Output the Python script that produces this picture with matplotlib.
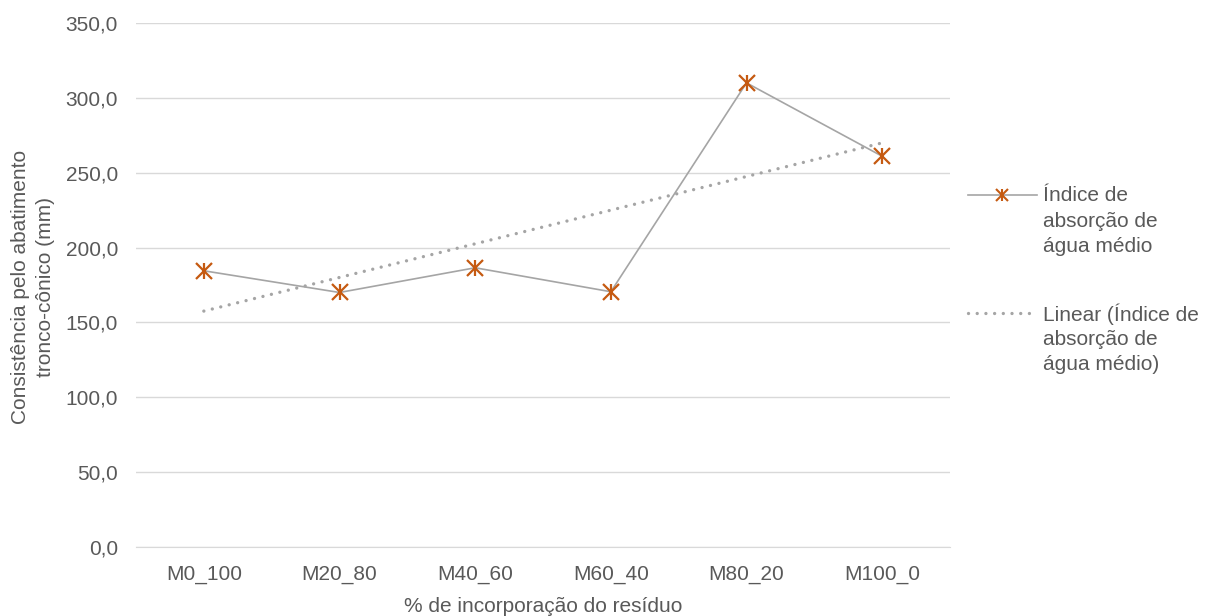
import numpy as np
import matplotlib
matplotlib.use("Agg")
import matplotlib.pyplot as plt
from matplotlib.lines import Line2D

plt.rcParams['font.family'] = ['Liberation Sans', 'DejaVu Sans']

categories = ["M0_100", "M20_80", "M40_60", "M60_40", "M80_20", "M100_0"]
absorcao = [184.5, 170.0, 186.5, 170.5, 310.0, 261.0]
y_ticks = [0, 50, 100, 150, 200, 250, 300, 350]

TEXT = "#595959"
GRID = "#D9D9D9"
LINE = "#A5A5A5"
MARK = "#C55A11"
FS = 15

W, H = 1216, 616
fig = plt.figure(figsize=(W / 100, H / 100), dpi=100)
ax = fig.add_axes([136 / W, 1 - 547 / H, (950 - 136) / W, (547 - 23) / H])


def star(axis, xs, ys, size):
    # star marker: an x with a vertical stroke through it
    kw = dict(linestyle='none', mec=MARK, mfc=MARK, mew=1.6, zorder=4)
    axis.plot(xs, ys, marker='x', ms=size, **kw)
    axis.plot(xs, ys, marker='|', ms=size * 1.05, **kw)


x = np.arange(len(categories))
ax.plot(x, absorcao, color=LINE, lw=1.2, zorder=3)
star(ax, x, absorcao, 11)

# linear trend of the series
coef = np.polyfit(x, absorcao, 1)
trend = np.polyval(coef, x[[0, -1]])
ax.plot(x[[0, -1]], trend, color=LINE, lw=2.4, linestyle=(0, (0.01, 2.6)),
        dash_capstyle='round', zorder=2)

ax.set_xlim(-0.5, len(categories) - 0.5)
ax.set_ylim(0, 350)
ax.set_yticks(y_ticks)
ax.set_yticklabels([f"{v:.1f}".replace(".", ",") for v in y_ticks])
ax.set_xticks(x)
ax.set_xticklabels(categories)
ax.grid(axis='y', color=GRID, lw=1.0)
ax.set_axisbelow(True)
for s in ['top', 'right', 'left']:
    ax.spines[s].set_visible(False)
ax.spines['bottom'].set_color(GRID)
ax.tick_params(axis='both', length=0, labelsize=FS, colors=TEXT)
ax.tick_params(axis='y', pad=13)
ax.tick_params(axis='x', pad=13)


def fx(px):
    return px / W


def fy(py):
    return 1 - py / H


fig.text(fx(543), fy(612), "% de incorporação do resíduo", ha='center', va='baseline',
         fontsize=FS, color=TEXT)
fig.text(fx(33), fy(287), "Consistência pelo abatimento\ntronco-cônico (mm)",
         rotation=90, ha='center', va='center', fontsize=FS, color=TEXT,
         linespacing=1.35)

# legend drawn in figure pixel coordinates
fig.add_artist(Line2D([fx(968), fx(1037)], [fy(195), fy(195)], color=LINE, lw=1.2,
                      transform=fig.transFigure))
fig.add_artist(Line2D([fx(1002)], [fy(195)], marker='x', ms=8, mec=MARK, mew=1.5,
                      transform=fig.transFigure))
fig.add_artist(Line2D([fx(1002)], [fy(195)], marker='|', ms=8.5, mec=MARK, mew=1.5,
                      transform=fig.transFigure))
fig.add_artist(Line2D([fx(968), fx(1037)], [fy(313), fy(313)], color=LINE, lw=2.4,
                      linestyle=(0, (0.01, 2.6)), dash_capstyle='round',
                      transform=fig.transFigure))

leg1 = ["Índice de", "absorção de", "água médio"]
leg2 = ["Linear (Índice de", "absorção de", "água médio)"]
for i, t in enumerate(leg1):
    fig.text(fx(1043), fy(196 + 25.5 * i), t, ha='left', va='center', fontsize=FS, color=TEXT)
for i, t in enumerate(leg2):
    fig.text(fx(1043), fy(314 + 25.5 * i), t, ha='left', va='center', fontsize=FS, color=TEXT)

fig.savefig("out.png", dpi=100, facecolor='white')
